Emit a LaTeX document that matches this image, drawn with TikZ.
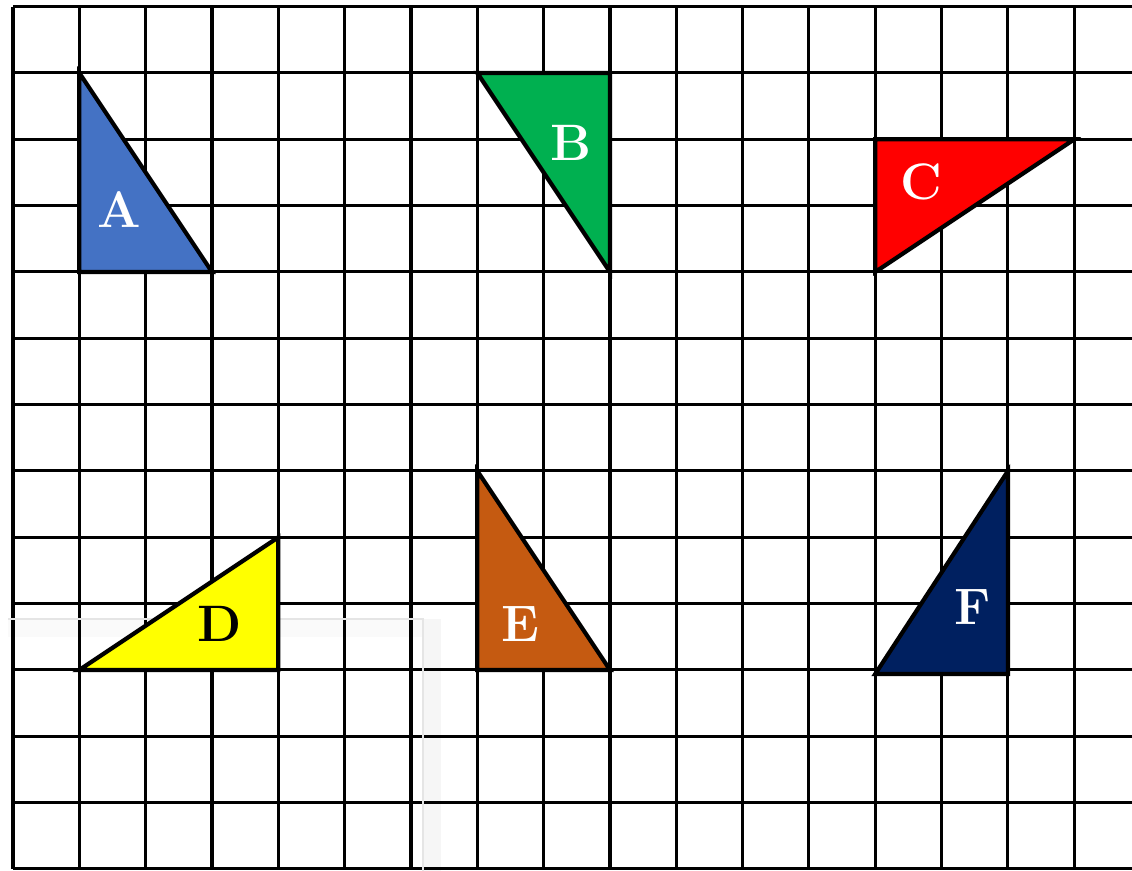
\documentclass[tikz,border=0pt]{standalone}
\usetikzlibrary{calc}
\definecolor{triblue}{HTML}{4472C4}
\definecolor{trigreen}{HTML}{00B050}
\definecolor{trired}{HTML}{FF0000}
\definecolor{triyellow}{HTML}{FFFF00}
\definecolor{triorange}{HTML}{C55A11}
\definecolor{trinavy}{HTML}{002060}
\tikzstyle{gridline}=[line width=1.3pt,black]
\tikzstyle{tri}=[line width=1.8pt,black,line join=miter]
\tikzstyle{letter}=[font=\fontsize{22}{22}\selectfont\bfseries,white,inner sep=0pt]
\def\tri#1#2#3#4{
  \draw[tri,fill=#1] #2 -- #3 -- #4 -- cycle;
}

\begin{document}
\begin{tikzpicture}
  \def\W{16.87}
  \def\H{13.1}
  \clip (-0.196,-0.03) rectangle (\W,\H);

  % SHADOW OF A WINDOW
  \fill[gray!7] (6.18,-0.5) rectangle (6.45,3.77);
  \fill[gray!4] (-0.075,3.5) rectangle (6.18,3.77);

  % GRID
  \foreach \i in {0,...,16}
    \draw[gridline] (\i,0) -- (\i,13);
  \foreach \j in {0,...,13}
    \draw[gridline] (0,\j) -- (17.2,\j);
  \draw[gray!20,line width=.8pt] (-0.075,3.77) -- (6.18,3.77) -- (6.18,-0.5);

  % TRIANGLES
  \tri{triblue}{(1,12)}{(1,9)}{(3,9)}
  \tri{trigreen}{(7,12)}{(9,12)}{(9,9)}
  \tri{trired}{(13,11)}{(16,11)}{(13,9)}
  \tri{triyellow}{(1,3)}{(4,3)}{(4,5)}
  \tri{triorange}{(7,6)}{(7,3)}{(9,3)}
  \tri{trinavy}{(13,2.94)}{(15,2.94)}{(15,6)}

  % LABELS
  \node[letter] (A) at (1.61,9.94) {A};
  \node[letter] (B) at (8.42,10.95) {B};
  \node[letter] (C) at (13.7,10.35) {C};
  \node[letter,black] (D) at (3.12,3.69) {D};
  \node[letter] (E) at (7.65,3.69) {E};
  \node[letter] (F) at (14.46,3.95) {F};
\end{tikzpicture}
\end{document}
